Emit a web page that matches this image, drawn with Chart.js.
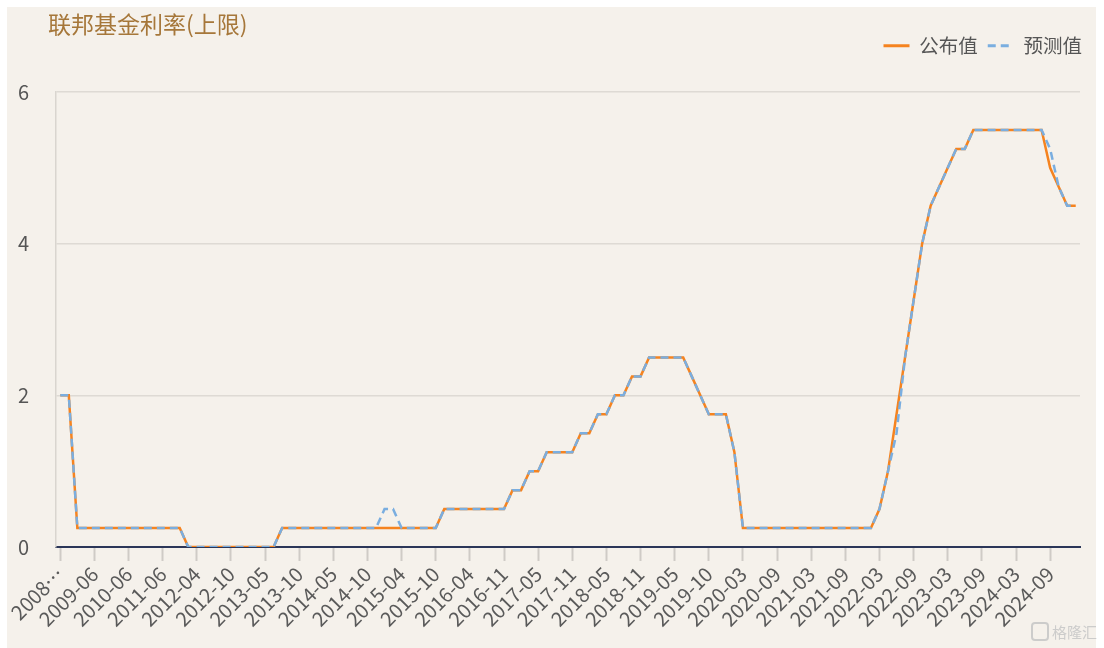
<!DOCTYPE html>
<html>
<head>
<meta charset="utf-8">
<script src="https://cdn.jsdelivr.net/npm/chart.js@4.4.1/dist/chart.umd.min.js"></script>
<style>
html,body{margin:0;padding:0;background:#ffffff;}
#wrap{position:relative;width:1104px;height:648px;overflow:hidden;}
#panel{position:absolute;left:7px;top:7px;width:1089px;height:641px;background:#f5f1eb;}
#c{position:absolute;left:0;top:0;}
</style>
</head>
<body>
<div id="wrap"><div id="panel"></div><canvas id="c" width="1104" height="648"></canvas></div>
<script>
// FOMC decision dates (Beijing time)
const dates = [
  "2008-08-06","2008-09-17","2008-12-17","2009-03-19","2009-06-25","2009-08-13","2009-11-05","2010-03-17",
  "2010-06-24","2010-09-22","2010-12-15","2011-03-16","2011-06-23","2011-09-22","2011-12-14","2012-03-14",
  "2012-04-26","2012-06-21","2012-08-02","2012-09-14","2012-10-25","2012-12-13","2013-01-31","2013-03-21",
  "2013-05-02","2013-06-20","2013-08-01","2013-09-19","2013-10-31","2013-12-19","2014-01-30","2014-03-20",
  "2014-05-01","2014-06-19","2014-07-31","2014-09-18","2014-10-30","2014-12-18","2015-01-29","2015-03-19",
  "2015-04-30","2015-06-18","2015-07-30","2015-09-18","2015-10-29","2015-12-17","2016-01-28","2016-03-17",
  "2016-04-28","2016-06-16","2016-07-28","2016-09-22","2016-11-03","2016-12-15","2017-02-02","2017-03-16",
  "2017-05-04","2017-06-15","2017-07-27","2017-09-21","2017-11-02","2017-12-14","2018-02-01","2018-03-22",
  "2018-05-03","2018-06-14","2018-08-02","2018-09-27","2018-11-09","2018-12-20","2019-01-31","2019-03-21",
  "2019-05-02","2019-06-20","2019-08-01","2019-09-19","2019-10-31","2019-12-12","2020-01-30","2020-03-03",
  "2020-03-16","2020-04-30","2020-06-11","2020-07-30","2020-09-17","2020-11-06","2020-12-17","2021-01-28",
  "2021-03-18","2021-04-29","2021-06-17","2021-07-29","2021-09-23","2021-11-04","2021-12-16","2022-01-27",
  "2022-03-17","2022-05-05","2022-06-16","2022-07-28","2022-09-22","2022-11-03","2022-12-15","2023-02-02",
  "2023-03-23","2023-05-04","2023-06-15","2023-07-27","2023-09-21","2023-11-02","2023-12-14","2024-02-01",
  "2024-03-21","2024-05-02","2024-06-13","2024-08-01","2024-09-19","2024-11-08","2024-12-19","2025-01-30"
];

// 公布值 (published upper bound, %)
const published = [
  2, 2, 0.25, 0.25, 0.25, 0.25, 0.25, 0.25,
  0.25, 0.25, 0.25, 0.25, 0.25, 0.25, 0.25, 0,
  0, 0, 0, 0, 0, 0, 0, 0,
  0, 0, 0.25, 0.25, 0.25, 0.25, 0.25, 0.25,
  0.25, 0.25, 0.25, 0.25, 0.25, 0.25, 0.25, 0.25,
  0.25, 0.25, 0.25, 0.25, 0.25, 0.5, 0.5, 0.5,
  0.5, 0.5, 0.5, 0.5, 0.5, 0.75, 0.75, 1,
  1, 1.25, 1.25, 1.25, 1.25, 1.5, 1.5, 1.75,
  1.75, 2, 2, 2.25, 2.25, 2.5, 2.5, 2.5,
  2.5, 2.5, 2.25, 2, 1.75, 1.75, 1.75, 1.25,
  0.25, 0.25, 0.25, 0.25, 0.25, 0.25, 0.25, 0.25,
  0.25, 0.25, 0.25, 0.25, 0.25, 0.25, 0.25, 0.25,
  0.5, 1, 1.75, 2.5, 3.25, 4, 4.5, 4.75,
  5, 5.25, 5.25, 5.5, 5.5, 5.5, 5.5, 5.5,
  5.5, 5.5, 5.5, 5.5, 5, 4.75, 4.5, 4.5
];

// 预测值 (forecast upper bound, %)
const forecast = [
  2, 2, 0.25, 0.25, 0.25, 0.25, 0.25, 0.25,
  0.25, 0.25, 0.25, 0.25, 0.25, 0.25, 0.25, 0,
  0, 0, 0, 0, 0, 0, 0, 0,
  0, 0, 0.25, 0.25, 0.25, 0.25, 0.25, 0.25,
  0.25, 0.25, 0.25, 0.25, 0.25, 0.25, 0.5, 0.5,
  0.25, 0.25, 0.25, 0.25, 0.25, 0.5, 0.5, 0.5,
  0.5, 0.5, 0.5, 0.5, 0.5, 0.75, 0.75, 1,
  1, 1.25, 1.25, 1.25, 1.25, 1.5, 1.5, 1.75,
  1.75, 2, 2, 2.25, 2.25, 2.5, 2.5, 2.5,
  2.5, 2.5, 2.25, 2, 1.75, 1.75, 1.75, 1.25,
  0.25, 0.25, 0.25, 0.25, 0.25, 0.25, 0.25, 0.25,
  0.25, 0.25, 0.25, 0.25, 0.25, 0.25, 0.25, 0.25,
  0.5, 1, 1.5, 2.5, 3.25, 4, 4.5, 4.75,
  5, 5.25, 5.25, 5.5, 5.5, 5.5, 5.5, 5.5,
  5.5, 5.5, 5.5, 5.5, 5.25, 4.75, 4.5, 4.5
];

const seriesNames = ["公布值", "预测值"];
const chartTitle = "联邦基金利率(上限)";
const yTickValues = [0, 2, 4, 6];
const labelEvery = 4;

const FONT = '"Noto Sans CJK SC", "Noto Sans", sans-serif';
Chart.defaults.font.family = FONT;

const layoutTweaks = {
  id: 'layoutTweaks',
  beforeInit(chart) {
    const origFit = chart.legend.fit;
    chart.legend.fit = function () {
      origFit.bind(chart.legend)();
      this.height += 26.5;
    };
  },
  afterLayout(chart) {
    if (chart.titleBlock) chart.titleBlock.left = 48;
  }
};

const watermark = {
  id: 'watermark',
  afterDraw(chart) {
    const ctx = chart.ctx;
    ctx.save();
    ctx.strokeStyle = 'rgba(200,200,200,0.9)';
    ctx.lineWidth = 2;
    ctx.beginPath();
    ctx.roundRect(1032, 623, 16, 17, 3);
    ctx.stroke();
    ctx.fillStyle = 'rgba(200,200,200,0.9)';
    ctx.font = '15px ' + FONT;
    ctx.textBaseline = 'middle';
    ctx.fillText('格隆汇', 1052, 632);
    ctx.restore();
  }
};

new Chart(document.getElementById('c'), {
  type: 'line',
  data: {
    labels: dates,
    datasets: [
      {
        label: seriesNames[0],
        data: published,
        borderColor: '#f5831f',
        backgroundColor: '#f5831f',
        borderWidth: 2.5,
        pointRadius: 0,
        tension: 0,
        fill: false,
        order: 2
      },
      {
        label: seriesNames[1],
        data: forecast,
        borderColor: '#7aaee0',
        backgroundColor: '#7aaee0',
        borderWidth: 2.5,
        borderDash: [8, 5],
        pointRadius: 0,
        tension: 0,
        fill: false,
        order: 1
      }
    ]
  },
  options: {
    responsive: false,
    animation: false,
    devicePixelRatio: 1,
    layout: { padding: { left: 0, right: 12, top: 0, bottom: 0 } },
    plugins: {
      title: {
        display: true,
        text: chartTitle,
        align: 'start',
        color: '#a6773a',
        font: { size: 23, weight: 'normal', family: FONT },
        padding: { top: 10, bottom: -11.6 }
      },
      legend: {
        display: true,
        position: 'top',
        align: 'end',
        labels: {
          usePointStyle: true,
          pointStyle: 'line',
          pointStyleWidth: 26,
          color: '#555555',
          font: { size: 19.5, family: FONT },
          padding: 10,
          sort: (a, b) => a.datasetIndex - b.datasetIndex,
          generateLabels: (chart) => {
            const items = Chart.defaults.plugins.legend.labels.generateLabels(chart);
            items.forEach((it) => {
              const ds = chart.data.datasets[it.datasetIndex];
              it.lineDash = ds.borderDash || [];
              it.lineWidth = 3;
              it.strokeStyle = ds.borderColor;
            });
            return items;
          }
        }
      },
      tooltip: { enabled: false }
    },
    scales: {
      x: {
        type: 'category',
        offset: true,
        grid: {
          display: true,
          drawOnChartArea: false,
          drawTicks: true,
          tickLength: 14,
          offset: false,
          tickColor: (ctx) => (ctx.index % labelEvery === 0 ? '#cfcbc6' : 'rgba(0,0,0,0)'),
          tickWidth: 2
        },
        border: { display: true, color: '#2b3658', width: 2 },
        ticks: {
          autoSkip: false,
          maxRotation: 45,
          minRotation: 45,
          padding: 1,
          color: '#5a5a5a',
          font: { size: 20, family: FONT },
          callback: function (value, index) {
            if (index % labelEvery !== 0) return '';
            const l = dates[index].slice(0, 7);
            return index === 0 ? l.slice(0, 4) + '…' : l;
          }
        },
        afterFit: (s) => { s.height = 101; }
      },
      y: {
        min: 0,
        max: 6,
        afterBuildTicks: (s) => { s.ticks = yTickValues.map(v => ({ value: v })); },
        ticks: { padding: 27, color: '#555555', font: { size: 20, family: FONT } },
        grid: { color: '#dedad4', drawTicks: false, lineWidth: 1.5 },
        border: { display: true, color: '#d9d5cf', width: 1.5 },
        afterFit: (s) => { s.width = 56; }
      },
      yPad: {
        position: 'right',
        display: true,
        grid: { display: false },
        ticks: { display: false },
        border: { display: false },
        afterFit: (s) => { s.width = 12; }
      }
    }
  },
  plugins: [layoutTweaks, watermark]
});
</script>
</body>
</html>
